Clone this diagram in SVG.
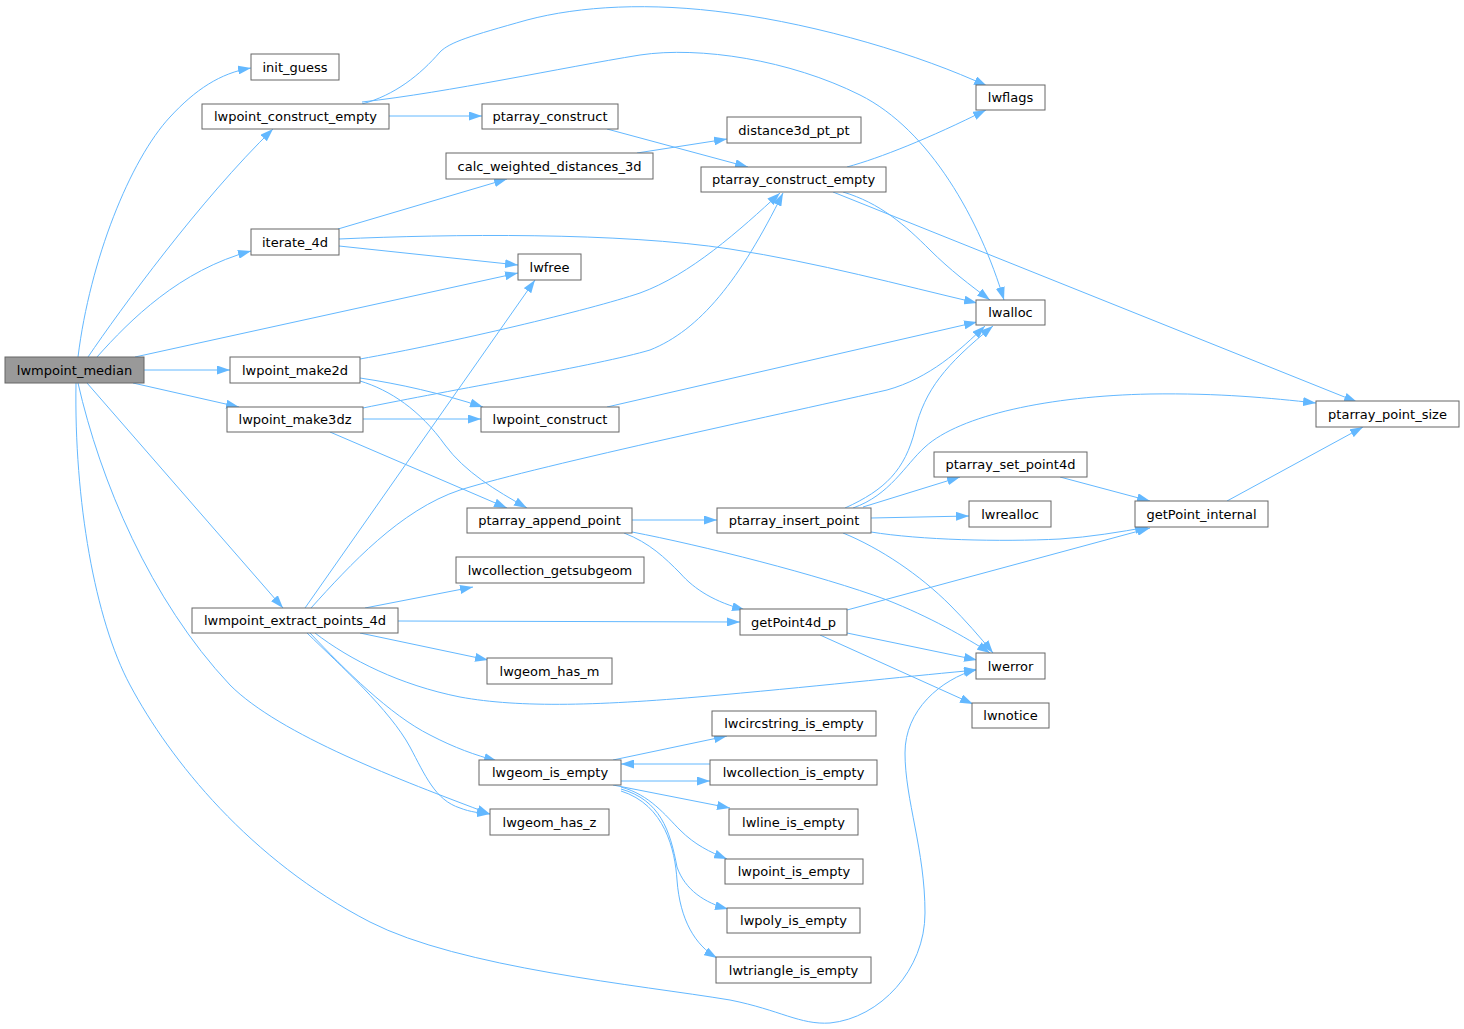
<svg xmlns="http://www.w3.org/2000/svg" width="1464" height="1029" viewBox="0 0 1464 1029">
<style>
.n rect{fill:#ffffff;stroke:#666666;stroke-width:1}
.n text{font-family:"DejaVu Sans",sans-serif;font-size:13px;fill:#000000;text-anchor:middle}
#lwmpoint_median rect{fill:#999999}
.e path{fill:none;stroke:#63b8ff;stroke-width:1;marker-end:url(#ah)}
</style>
<defs>
<marker id="ah" viewBox="0 0 13 9" refX="13" refY="4.5" markerWidth="13" markerHeight="9" orient="auto" markerUnits="userSpaceOnUse">
<path d="M0,0 L13,4.5 L0,9 z" fill="#63b8ff"/>
</marker>
</defs>
<rect width="1464" height="1029" fill="#ffffff"/>
<g id="edges" class="e">
<path d="M78,357 C90,260 130,160 170,117 C195,90 220,73 251,68"/>
<path d="M88,357 C120,310 200,200 273,129"/>
<path d="M97,357 C130,320 180,270 251,251"/>
<path d="M135,357 L518,273"/>
<path d="M144,370 L230,370"/>
<path d="M133,383 L239,407"/>
<path d="M87,383 L283,608"/>
<path d="M78,383 C100,480 150,600 230,685 C280,735 400,780 490,814"/>
<path d="M76,383 C74,500 95,620 130,685 C170,760 250,860 370,922 C460,968 640,985 730,1000 C780,1010 800,1025 830,1023 C880,1018 925,970 925,913 C925,850 905,800 905,753 C905,710 940,680 977,669"/>
<path d="M389,116 L482,116"/>
<path d="M362,104 C395,95 420,75 440,52 C450,42 470,36 527,20 C580,6 650,2 730,13 C820,25 920,55 987,86"/>
<path d="M362,102 C450,92 560,68 640,55 C700,46 790,60 860,95 C930,130 980,220 1004,300"/>
<path d="M607,129 L748,167"/>
<path d="M637,153 L727,139"/>
<path d="M847,167 C880,158 930,138 986,110"/>
<path d="M843,192 C880,203 905,225 930,250 C950,270 970,285 990,300"/>
<path d="M833,192 L1357,402"/>
<path d="M338,229 L507,179"/>
<path d="M339,239 C450,234 620,232 730,249 C820,263 900,285 977,303"/>
<path d="M339,246 L518,265"/>
<path d="M360,359 C450,343 590,310 640,293 C690,275 740,230 780,193"/>
<path d="M360,378 C400,384 440,393 483,407"/>
<path d="M360,381 C390,390 420,410 445,445 C465,472 495,490 527,508"/>
<path d="M363,408 C450,390 600,365 650,350 C700,330 740,280 783,193"/>
<path d="M363,419 L481,419"/>
<path d="M330,432 L507,508"/>
<path d="M607,407 L977,322"/>
<path d="M305,608 L535,280"/>
<path d="M311,608 C350,565 400,510 460,490 C540,465 800,410 887,390 C930,378 960,350 985,326"/>
<path d="M845,508 C885,490 905,470 915,430 C925,390 945,365 993,326"/>
<path d="M853,508 C890,495 905,465 925,447 C960,415 1050,396 1150,394 C1220,393 1270,398 1316,403"/>
<path d="M863,507 L960,477"/>
<path d="M871,518 L969,516"/>
<path d="M871,532 C920,540 1000,542 1060,539 C1090,537 1120,532 1148,527"/>
<path d="M843,533 C880,548 920,575 950,605 C965,620 980,637 993,653"/>
<path d="M632,520 L717,520"/>
<path d="M632,532 C700,545 820,575 887,600 C930,617 965,637 990,653"/>
<path d="M624,533 C650,543 665,558 680,573 C695,590 715,602 745,610"/>
<path d="M365,608 L473,587"/>
<path d="M398,621 L740,622"/>
<path d="M360,633 L488,660"/>
<path d="M315,633 C350,660 400,685 460,697 C520,708 600,706 720,695 C830,685 920,675 977,670"/>
<path d="M310,633 C345,670 390,715 430,735 C455,748 475,755 497,761"/>
<path d="M307,633 C340,665 390,710 410,747 C425,775 435,800 460,808 C470,812 480,813 490,814"/>
<path d="M847,610 L1150,528"/>
<path d="M847,633 L977,660"/>
<path d="M820,635 L973,704"/>
<path d="M1060,477 L1150,501"/>
<path d="M1227,501 L1363,427"/>
<path d="M613,760 L727,736"/>
<path d="M710,764 L621,764"/>
<path d="M621,781 L710,781"/>
<path d="M613,785 L730,808"/>
<path d="M621,787 C650,795 665,815 680,830 C695,845 710,852 727,859"/>
<path d="M621,789 C660,800 670,830 677,867 C685,890 705,903 728,909"/>
<path d="M621,791 C665,805 675,850 677,880 C680,920 695,945 717,958"/>
</g>
<g id="lwmpoint_median" class="n"><rect x="5" y="357" width="139" height="26"/><text x="74.5" y="374.5">lwmpoint_median</text></g>
<g id="init_guess" class="n"><rect x="251" y="54" width="88" height="26"/><text x="295" y="71.5">init_guess</text></g>
<g id="lwpoint_construct_empty" class="n"><rect x="202" y="104" width="187" height="25"/><text x="295.5" y="121">lwpoint_construct_empty</text></g>
<g id="ptarray_construct" class="n"><rect x="482" y="104" width="136" height="25"/><text x="550" y="121">ptarray_construct</text></g>
<g id="calc_weighted_distances_3d" class="n"><rect x="446" y="153" width="207" height="26"/><text x="549.5" y="170.5">calc_weighted_distances_3d</text></g>
<g id="distance3d_pt_pt" class="n"><rect x="727" y="117" width="134" height="26"/><text x="794" y="134.5">distance3d_pt_pt</text></g>
<g id="lwflags" class="n"><rect x="976" y="85" width="69" height="25"/><text x="1010.5" y="102">lwflags</text></g>
<g id="ptarray_construct_empty" class="n"><rect x="701" y="167" width="185" height="25"/><text x="793.5" y="184">ptarray_construct_empty</text></g>
<g id="lwalloc" class="n"><rect x="976" y="300" width="69" height="25"/><text x="1010.5" y="317">lwalloc</text></g>
<g id="iterate_4d" class="n"><rect x="251" y="229" width="88" height="26"/><text x="295" y="246.5">iterate_4d</text></g>
<g id="lwfree" class="n"><rect x="518" y="254" width="63" height="26"/><text x="549.5" y="271.5">lwfree</text></g>
<g id="lwpoint_make2d" class="n"><rect x="230" y="357" width="130" height="26"/><text x="295" y="374.5">lwpoint_make2d</text></g>
<g id="lwpoint_make3dz" class="n"><rect x="227" y="407" width="136" height="25"/><text x="295" y="424">lwpoint_make3dz</text></g>
<g id="lwpoint_construct" class="n"><rect x="481" y="407" width="138" height="25"/><text x="550" y="424">lwpoint_construct</text></g>
<g id="ptarray_append_point" class="n"><rect x="467" y="508" width="165" height="25"/><text x="549.5" y="525">ptarray_append_point</text></g>
<g id="lwcollection_getsubgeom" class="n"><rect x="456" y="557" width="188" height="26"/><text x="550" y="574.5">lwcollection_getsubgeom</text></g>
<g id="lwmpoint_extract_points_4d" class="n"><rect x="192" y="608" width="206" height="25"/><text x="295" y="625">lwmpoint_extract_points_4d</text></g>
<g id="lwgeom_has_m" class="n"><rect x="487" y="658" width="125" height="26"/><text x="549.5" y="675.5">lwgeom_has_m</text></g>
<g id="ptarray_insert_point" class="n"><rect x="717" y="508" width="154" height="25"/><text x="794" y="525">ptarray_insert_point</text></g>
<g id="ptarray_set_point4d" class="n"><rect x="934" y="452" width="153" height="25"/><text x="1010.5" y="469">ptarray_set_point4d</text></g>
<g id="lwrealloc" class="n"><rect x="969" y="501" width="82" height="26"/><text x="1010" y="518.5">lwrealloc</text></g>
<g id="getPoint4d_p" class="n"><rect x="740" y="609" width="107" height="26"/><text x="793.5" y="626.5">getPoint4d_p</text></g>
<g id="lwerror" class="n"><rect x="976" y="653" width="69" height="26"/><text x="1010.5" y="670.5">lwerror</text></g>
<g id="ptarray_point_size" class="n"><rect x="1316" y="401" width="143" height="26"/><text x="1387.5" y="418.5">ptarray_point_size</text></g>
<g id="getPoint_internal" class="n"><rect x="1135" y="501" width="133" height="26"/><text x="1201.5" y="518.5">getPoint_internal</text></g>
<g id="lwnotice" class="n"><rect x="972" y="703" width="77" height="25"/><text x="1010.5" y="720">lwnotice</text></g>
<g id="lwcircstring_is_empty" class="n"><rect x="712" y="711" width="164" height="25"/><text x="794" y="728">lwcircstring_is_empty</text></g>
<g id="lwcollection_is_empty" class="n"><rect x="710" y="760" width="167" height="25"/><text x="793.5" y="777">lwcollection_is_empty</text></g>
<g id="lwline_is_empty" class="n"><rect x="729" y="809" width="129" height="26"/><text x="793.5" y="826.5">lwline_is_empty</text></g>
<g id="lwpoint_is_empty" class="n"><rect x="725" y="859" width="138" height="25"/><text x="794" y="876">lwpoint_is_empty</text></g>
<g id="lwpoly_is_empty" class="n"><rect x="727" y="908" width="133" height="25"/><text x="793.5" y="925">lwpoly_is_empty</text></g>
<g id="lwtriangle_is_empty" class="n"><rect x="716" y="957" width="155" height="26"/><text x="793.5" y="974.5">lwtriangle_is_empty</text></g>
<g id="lwgeom_is_empty" class="n"><rect x="479" y="760" width="142" height="25"/><text x="550" y="777">lwgeom_is_empty</text></g>
<g id="lwgeom_has_z" class="n"><rect x="490" y="809" width="119" height="26"/><text x="549.5" y="826.5">lwgeom_has_z</text></g>
</svg>
